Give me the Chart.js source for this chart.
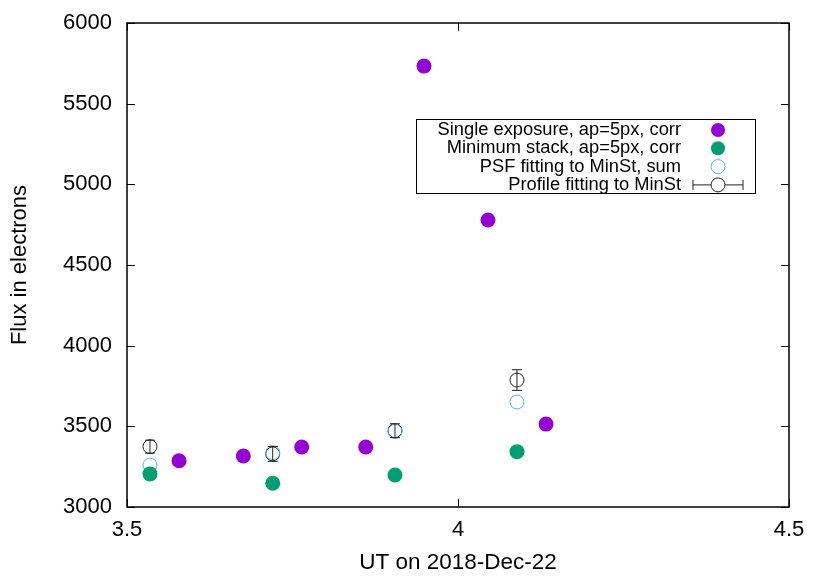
<!DOCTYPE html>
<html>
<head>
<meta charset="utf-8">
<script src="https://cdn.jsdelivr.net/npm/chart.js@4/dist/chart.umd.min.js"></script>
<style>
  html, body { margin: 0; padding: 0; background: #fff; }
  #wrap { width: 830px; height: 581px; }
</style>
</head>
<body>
<div id="wrap"><canvas id="fluxChart" width="830" height="581"></canvas></div>
<script>
// data
const singleX = [3.5786, 3.6757, 3.7639, 3.8606, 3.9486, 4.0453, 4.1330];
const singleY = [3287, 3316, 3372, 3372, 5733, 4779, 3514];
const stackX = [3.5347, 3.7201, 3.9048, 4.0891];
const stackY = [3205, 3147, 3198, 3343];
const psfY = [3260, 3337, 3468, 3651];
const profileY = [3374, 3329, 3473, 3787];
const profileErr = [40, 46, 43, 64];
const xTicks = [3.5, 4, 4.5];
const yTicks = [3000, 3500, 4000, 4500, 5000, 5500, 6000];
const seriesNames = [
  'Single exposure, ap=5px, corr',
  'Minimum stack, ap=5px, corr',
  'PSF fitting to MinSt, sum',
  'Profile fitting to MinSt'
];

const FONT = '"Liberation Sans", Arial, sans-serif';
const toPoints = (xs, ys) => xs.map((x, i) => ({ x, y: ys[i] }));

// gnuplot style frame with inward ticks on all sides
const framePlugin = {
  id: 'frame',
  afterDraw(chart) {
    const { ctx, chartArea: a, scales } = chart;
    ctx.save();
    ctx.strokeStyle = '#000';
    ctx.lineWidth = 1;
    ctx.beginPath();
    xTicks.forEach(v => {
      const px = Math.round(scales.x.getPixelForValue(v)) + 0.5;
      ctx.moveTo(px, a.bottom); ctx.lineTo(px, a.bottom - 8);
      ctx.moveTo(px, a.top); ctx.lineTo(px, a.top + 8);
    });
    yTicks.forEach(v => {
      const py = Math.round(scales.y.getPixelForValue(v)) + 0.5;
      ctx.moveTo(a.left, py); ctx.lineTo(a.left + 8, py);
      ctx.moveTo(a.right, py); ctx.lineTo(a.right - 8, py);
    });
    ctx.stroke();
    ctx.lineWidth = 1.5;
    ctx.strokeRect(a.left, a.top, a.right - a.left, a.bottom - a.top);
    ctx.restore();
  }
};

// vertical error bars for the profile fit series
const errorBarPlugin = {
  id: 'errorBars',
  afterDatasetsDraw(chart) {
    const { ctx, scales } = chart;
    ctx.save();
    ctx.strokeStyle = '#222';
    ctx.lineWidth = 1;
    ctx.beginPath();
    stackX.forEach((x, i) => {
      const px = scales.x.getPixelForValue(x);
      const top = scales.y.getPixelForValue(profileY[i] + profileErr[i]);
      const bot = scales.y.getPixelForValue(profileY[i] - profileErr[i]);
      ctx.moveTo(px, top); ctx.lineTo(px, bot);
      ctx.moveTo(px - 5, top); ctx.lineTo(px + 5, top);
      ctx.moveTo(px - 5, bot); ctx.lineTo(px + 5, bot);
    });
    ctx.stroke();
    ctx.restore();
  }
};

// key box in the top right, text right-aligned with sample to its right
const keyPlugin = {
  id: 'key',
  afterDraw(chart) {
    const { ctx } = chart;
    const box = { x: 416, y: 119, w: 339, h: 74 };
    ctx.save();
    ctx.strokeStyle = '#000';
    ctx.lineWidth = 1;
    ctx.strokeRect(box.x + 0.5, box.y + 0.5, box.w, box.h);
    ctx.font = '18.3px ' + FONT;
    ctx.textAlign = 'right';
    ctx.textBaseline = 'middle';
    ctx.fillStyle = '#000';
    const sx = 718;
    chart.data.datasets.forEach((ds, i) => {
      const y = 130 + i * 18.3;
      ctx.fillText(seriesNames[i], 681, y);
      ctx.beginPath();
      ctx.arc(sx, y, 7, 0, Math.PI * 2);
      if (ds.backgroundColor !== 'transparent') {
        ctx.fillStyle = ds.backgroundColor;
        ctx.fill();
        ctx.fillStyle = '#000';
      } else {
        ctx.strokeStyle = ds.borderColor;
        ctx.stroke();
      }
      if (i === 3) {
        ctx.strokeStyle = '#222';
        ctx.beginPath();
        ctx.moveTo(693, y); ctx.lineTo(sx - 7, y);
        ctx.moveTo(sx + 7, y); ctx.lineTo(743, y);
        ctx.moveTo(693, y - 5); ctx.lineTo(693, y + 5);
        ctx.moveTo(743, y - 5); ctx.lineTo(743, y + 5);
        ctx.stroke();
      }
    });
    ctx.restore();
  }
};

const ctx = document.getElementById('fluxChart').getContext('2d');
new Chart(ctx, {
  type: 'scatter',
  data: {
    datasets: [
      {
        label: seriesNames[0],
        data: toPoints(singleX, singleY),
        backgroundColor: '#9400d3',
        borderColor: '#9400d3',
        borderWidth: 0,
        pointRadius: 7.5
      },
      {
        label: seriesNames[1],
        data: toPoints(stackX, stackY),
        backgroundColor: '#009e73',
        borderColor: '#009e73',
        borderWidth: 0,
        pointRadius: 7.5
      },
      {
        label: seriesNames[2],
        data: toPoints(stackX, psfY),
        backgroundColor: 'transparent',
        borderColor: '#56b4e9',
        borderWidth: 1,
        pointRadius: 7
      },
      {
        label: seriesNames[3],
        data: toPoints(stackX, profileY),
        backgroundColor: 'transparent',
        borderColor: '#222',
        borderWidth: 1,
        pointRadius: 7
      }
    ]
  },
  options: {
    responsive: false,
    animation: false,
    events: [],
    layout: { padding: { left: 0, right: 41, top: 23, bottom: 0 } },
    plugins: {
      legend: { display: false },
      tooltip: { enabled: false }
    },
    scales: {
      x: {
        type: 'linear',
        min: 3.5,
        max: 4.5,
        afterFit: s => { s.height = 74; s.paddingLeft = 0; s.paddingRight = 0; },
        afterBuildTicks: s => { s.ticks = xTicks.map(v => ({ value: v })); },
        grid: { display: false, drawTicks: false },
        border: { display: false },
        ticks: {
          padding: 10,
          color: '#000',
          font: { family: FONT, size: 22 },
          callback: v => String(v)
        },
        title: {
          display: true,
          text: 'UT on 2018-Dec-22',
          color: '#000',
          font: { family: FONT, size: 22.5 },
          padding: { top: 0, bottom: 5 }
        }
      },
      y: {
        type: 'linear',
        min: 3000,
        max: 6000,
        afterFit: s => { s.width = 127; s.paddingTop = 0; s.paddingBottom = 0; },
        afterBuildTicks: s => { s.ticks = yTicks.map(v => ({ value: v })); },
        grid: { display: false, drawTicks: false },
        border: { display: false },
        ticks: {
          padding: 15,
          color: '#000',
          font: { family: FONT, size: 22 },
          callback: v => String(v)
        },
        title: {
          display: true,
          text: 'Flux in electrons',
          color: '#000',
          font: { family: FONT, size: 22 },
          padding: { top: 7, bottom: 0 }
        }
      }
    }
  },
  plugins: [errorBarPlugin, framePlugin, keyPlugin]
});
</script>
</body>
</html>
